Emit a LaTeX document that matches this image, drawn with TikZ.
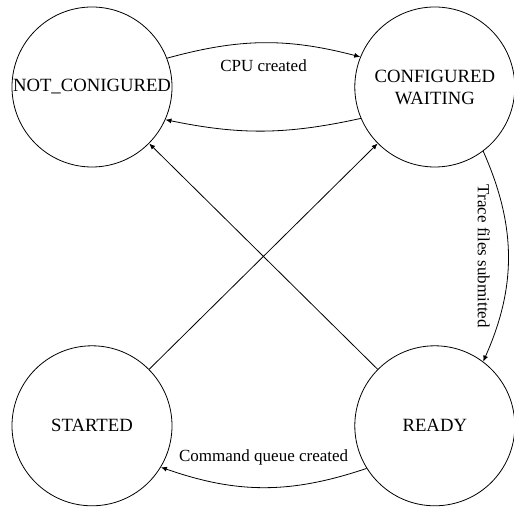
\documentclass[tikz,border=0pt]{standalone}
\usepackage{fontspec}
\setmainfont{Liberation Serif}
\usepackage{tikz}
\usetikzlibrary{arrows.meta, positioning}

\begin{document}
\begin{tikzpicture}[
    x=1pt, y=1pt,
    node distance=178pt and 182pt,
    state/.style={circle, draw, line width=0.8pt, minimum size=160pt,
                  inner sep=0pt, align=center,
                  font=\fontsize{18.7}{22}\selectfont},
    arrow/.style={-{Latex[length=6pt, width=5pt]}, line width=0.8pt},
    edgelabel/.style={font=\fontsize{17}{20}\selectfont},
  ]
  \useasboundingbox (0,0) rectangle (514,508);

  \node[state] (notconf) at (92,421) {NOT\_CONIGURED};
  \node[state, right=of notconf] (confwait) {CONFIGURED\\WAITING};
  \node[state, below=of notconf] (started) {STARTED};
  \node[state, below=of confwait] (ready) {READY};

  \draw[arrow] (notconf.21) to[bend left=15]
    node[midway, below=13pt, edgelabel] {CPU created} (confwait.158);
  \draw[arrow] (confwait.203) to[bend left=12] (notconf.336);
  \draw[arrow] (ready) -- (notconf);
  \draw[arrow] (started) -- (confwait);
  \draw[arrow] (confwait.307) to[bend left=24]
    node[midway, rotate=-90, anchor=north, outer sep=15pt, edgelabel] {Trace files submitted} (ready.53);
  \draw[arrow] (ready.212) to[bend left=19]
    node[midway, above=19pt, edgelabel] {Command queue created} (started.329);
\end{tikzpicture}
\end{document}
